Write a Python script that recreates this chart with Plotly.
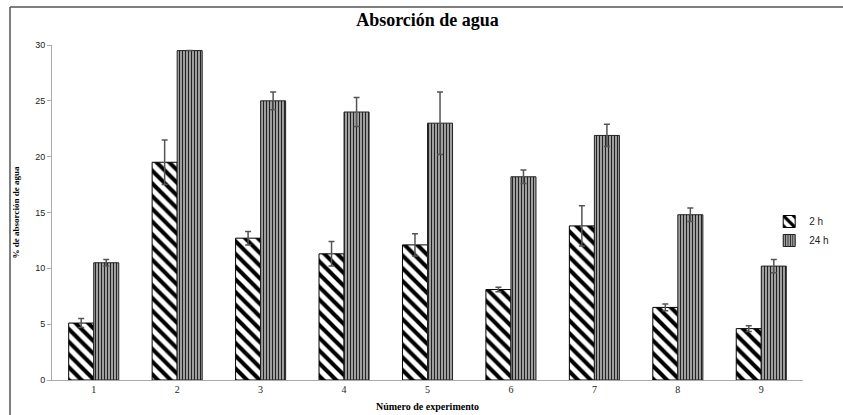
import plotly.graph_objects as go

categories = ["1", "2", "3", "4", "5", "6", "7", "8", "9"]
h2_values = [5.1, 19.5, 12.7, 11.3, 12.1, 8.1, 13.8, 6.5, 4.6]
h2_errors = [0.4, 2.0, 0.6, 1.1, 1.0, 0.2, 1.8, 0.3, 0.25]
h24_values = [10.5, 29.5, 25.0, 24.0, 23.0, 18.2, 21.9, 14.8, 10.2]
h24_errors = [0.3, 0.0, 0.8, 1.3, 2.8, 0.6, 1.0, 0.6, 0.6]
y_ticks = [0, 5, 10, 15, 20, 25, 30]

W, H = 843, 415
L, R, T, B = 52, 40, 45, 35
pw, ph = W - L - R, H - T - B

fig = go.Figure()
fig.add_trace(go.Bar(
    x=categories, y=h2_values, name="2 h",
    marker=dict(color="white", line=dict(color="black", width=1),
                pattern=dict(shape="\\", fgcolor="black", bgcolor="white", size=9,
                             solidity=0.45, fgopacity=1)),
    error_y=dict(type="data", array=h2_errors, color="#555", thickness=1.5, width=3),
))
fig.add_trace(go.Bar(
    x=categories, y=h24_values, name="24 h",
    marker=dict(color="white", line=dict(color="#222", width=1),
                pattern=dict(shape="|", fgcolor="#222", bgcolor="#c8c8c8", size=3,
                             solidity=0.5, fgopacity=1)),
    error_y=dict(type="data", array=h24_errors, color="#555", thickness=1.5, width=3),
))

def px_x(p):
    return (p - L) / pw

def px_y(p):
    return (H - B - p) / ph

fig.update_layout(
    width=W, height=H,
    margin=dict(l=L, r=R, t=T, b=B, autoexpand=False),
    paper_bgcolor="white", plot_bgcolor="white",
    barmode="group", bargap=0.4, bargroupgap=0,
    title=dict(text="<b>Absorción de agua</b>", x=0.5, xref="paper", xanchor="center",
               y=1 - 20 / H, yanchor="middle",
               font=dict(family="Liberation Serif", size=18, color="black")),
    xaxis=dict(showline=True, linecolor="#aaa", linewidth=1, ticks="", showgrid=False,
               automargin=False,
               tickfont=dict(family="Liberation Serif", size=10, color="#222"),
               title=dict(text="<b>Número de experimento</b>", standoff=8,
                          font=dict(family="Liberation Serif", size=10, color="black"))),
    yaxis=dict(range=[0, 30], tickvals=y_ticks, showline=True, linecolor="#aaa", linewidth=1,
               ticks="outside", ticklen=4, tickcolor="#aaa", showgrid=False, zeroline=False,
               automargin=False,
               tickfont=dict(family="Liberation Sans", size=9, color="#222"),
               title=dict(text="<b>% de absorción de agua</b>", standoff=14,
                          font=dict(family="Liberation Serif", size=9, color="black"))),
    legend=dict(x=0.955, y=px_y(231), xanchor="left", yanchor="middle",
                font=dict(family="Liberation Sans", size=10, color="#222"),
                bgcolor="rgba(0,0,0,0)", itemwidth=30, tracegroupgap=4),
    shapes=[
        dict(type="line", xref="paper", yref="paper", x0=px_x(10), x1=px_x(W + 5),
             y0=px_y(7), y1=px_y(7), line=dict(color="#555", width=1.5)),
        dict(type="line", xref="paper", yref="paper", x0=px_x(10), x1=px_x(10),
             y0=px_y(7), y1=px_y(H + 5), line=dict(color="#555", width=1.5)),
    ],
)

fig.write_html("out.html", config={"displayModeBar": False},
               post_script="document.body.style.margin='0';")
